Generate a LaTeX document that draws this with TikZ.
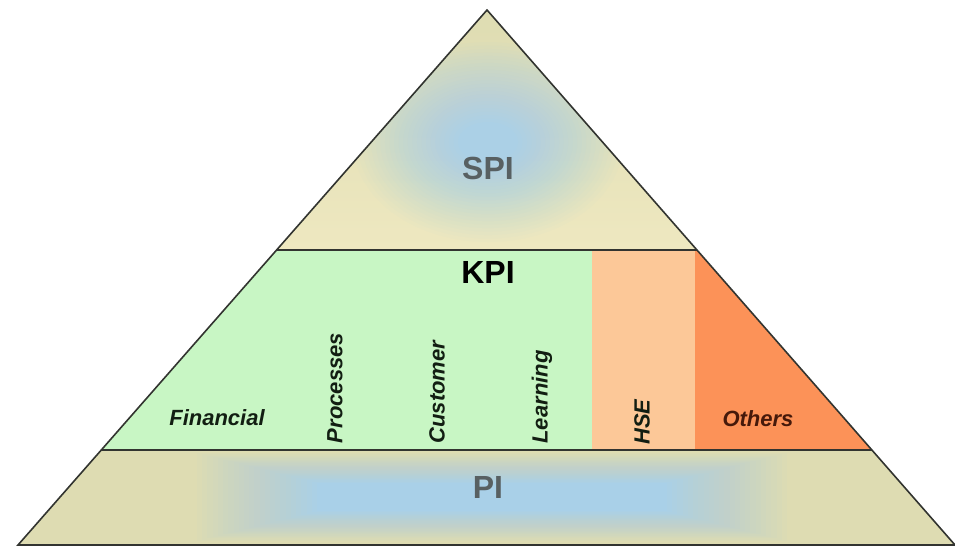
\documentclass[tikz,border=0pt]{standalone}
\usepackage{fontspec}
\setmainfont{Liberation Sans}
\usetikzlibrary{calc}
\definecolor{tanC}{RGB}{222,220,178}
\definecolor{yelC}{RGB}{238,232,192}
\definecolor{blueC}{RGB}{168,208,236}
\definecolor{greenC}{RGB}{200,246,196}
\definecolor{hseC}{RGB}{252,200,152}
\definecolor{othC}{RGB}{252,146,88}
\definecolor{greyT}{RGB}{88,96,98}
\definecolor{darkT}{RGB}{18,30,18}
\definecolor{brownT}{RGB}{70,25,10}
\definecolor{lineC}{RGB}{50,52,48}
\begin{document}
\begin{tikzpicture}[x=1pt,y=-1pt,
  big/.style={font=\bfseries\fontsize{32}{32}\selectfont, inner sep=0pt},
  lab/.style={font=\bfseries\itshape\fontsize{22}{22}\selectfont, inner sep=0pt, text=darkT},
  vlab/.style={lab, rotate=90},
  glow/.style={fill=blueC, fill opacity=#1},
  outline/.style={draw=lineC, line width=1.6pt, line join=miter},
  band/.style={draw=lineC, line width=1.3pt}]
\useasboundingbox (0,0) rectangle (955,547);
\coordinate (A) at (487,10);
\coordinate (L) at (18,545);
\coordinate (R) at (955,545);
\coordinate (L2) at ($(L)!0.5514!(A)$);
\coordinate (R2) at ($(R)!0.5514!(A)$);
\coordinate (L1) at ($(L)!0.1776!(A)$);
\coordinate (R1) at ($(R)!0.1776!(A)$);
\coordinate (G2) at (592,250);
\coordinate (G1) at (592,450);
\coordinate (H2) at (695,250);
\coordinate (H1) at (695,450);
\coordinate (C) at (488,142);
% SPI region
\begin{scope}
  \clip (A) -- (L2) -- (R2) -- cycle;
  \shade[top color=tanC, bottom color=yelC] (0,10) rectangle (955,250);
  \foreach \k in {1,...,24} {
    \pgfmathsetmacro\rx{135-105*(\k-1)/23}
    \pgfmathsetmacro\ry{100-80*(\k-1)/23}
    \pgfmathsetmacro\a{(0.92/24)/(1-0.92*(\k-1)/24)}
    \fill[glow=\a] (C) ellipse[x radius=\rx pt, y radius=\ry pt];
  }
\end{scope}
% KPI regions
\fill[greenC] (L2) -- (G2) -- (G1) -- (L1) -- cycle;
\fill[hseC] (G2) rectangle (H1);
\fill[othC] (H2) -- (R2) -- (R1) -- (H1) -- cycle;
% PI region
\begin{scope}
  \clip (L1) -- (R1) -- (R) -- (L) -- cycle;
  \fill[tanC] (0,450) rectangle (955,545);
  \foreach \k in {1,...,24} {
    \pgfmathsetmacro\w{295-120*(\k-1)/23}
    \pgfmathsetmacro\h{44-30*(\k-1)/23}
    \pgfmathsetmacro\a{(0.95/24)/(1-0.95*(\k-1)/24)}
    \fill[glow=\a] (492-\w,497-\h) rectangle (492+\w,497+\h);
  }
\end{scope}
% lines
\draw[band] (L2) -- (R2);
\draw[band] (L1) -- (R1);
\draw[outline] (A) -- (L) -- (R) -- cycle;
% texts
\node[big, text=greyT] (spi) at (488,168) {SPI};
\node[big, text=black] (kpi) at (488,272) {KPI};
\node[big, text=greyT] (pi) at (488,487) {PI};
\node[lab] (fin) at (217,418) {Financial};
\node[vlab] (proc) at (335,388) {Processes};
\node[vlab] (cust) at (437,392) {Customer};
\node[vlab] (learn) at (542,397) {Learning};
\node[vlab] (hse) at (642,422) {HSE};
\node[lab, text=brownT] (oth) at (758,419) {Others};
\end{tikzpicture}
\end{document}
